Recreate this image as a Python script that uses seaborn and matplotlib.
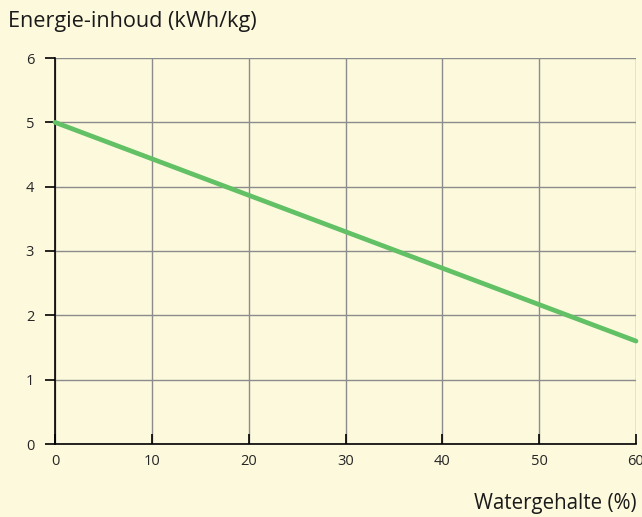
import pandas as pd
import seaborn as sns
from matplotlib import pyplot as plt

watergehalte = [0, 60]
energie = [5.0, 1.6]
x_ticks = [0, 10, 20, 30, 40, 50, 60]
y_ticks = [0, 1, 2, 3, 4, 5, 6]

df = pd.DataFrame({"water": watergehalte, "energie": energie})

bg = "#fdf9dd"
sns.set_style("white")
plt.rcParams["font.family"] = ["Open Sans", "DejaVu Sans"]

fig = plt.figure(figsize=(6.42, 5.17), dpi=100, facecolor=bg)
ax = fig.add_axes([55 / 642, 1 - 444 / 517, 581 / 642, 386 / 517])
ax.set_facecolor(bg)

sns.lineplot(data=df, x="water", y="energie", color="#62c065", linewidth=3.4, ax=ax,
             zorder=3, clip_on=False)

ax.set_xlim(0, 60)
ax.set_ylim(0, 6)
ax.set_xticks(x_ticks)
ax.set_yticks(y_ticks)
ax.grid(True, color="#8c8c8c", linewidth=1.0)
ax.set_axisbelow(True)

for side in ["top", "right"]:
    ax.spines[side].set_visible(False)
for side in ["left", "bottom"]:
    ax.spines[side].set_color("black")
    ax.spines[side].set_linewidth(1.2)

ax.tick_params(axis="x", direction="in", length=7, width=1.2, color="black",
               labelsize=10.5, pad=7, bottom=True)
ax.tick_params(axis="y", direction="out", length=7, width=1.2, color="black",
               labelsize=10.5, pad=8, left=True)

ax.set_xlabel("")
ax.set_ylabel("")
fig.text(8 / 642, 1 - 22 / 517, "Energie-inhoud (kWh/kg)", fontsize=15.6,
         ha="left", va="center", color="#1a1a1a")
fig.text(636 / 642, 1 - 503 / 517, "Watergehalte (%)", fontsize=14.8,
         ha="right", va="center", color="#1a1a1a")

fig.savefig("out.png", dpi=100, facecolor=bg)
